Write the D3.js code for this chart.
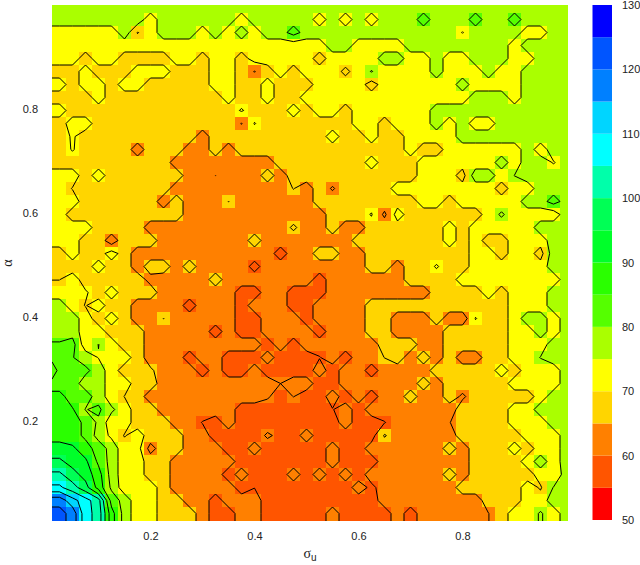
<!DOCTYPE html>
<html>
<head>
<meta charset="utf-8">
<script src="https://cdn.jsdelivr.net/npm/d3@7"></script>
<style>
  html, body { margin: 0; padding: 0; background: #fff; }
  svg { display: block; }
  text { font-family: "Liberation Sans", Arial, sans-serif; fill: #222; }
</style>
</head>
<body>
<svg id="chart" width="640" height="565"></svg>
<script>
// grid centres of the level plot
const sigmaU = [0.025,0.05,0.075,0.1,0.125,0.15,0.175,0.2,0.225,0.25,0.275,0.3,0.325,0.35,0.375,0.4,0.425,0.45,0.475,0.5,
  0.525,0.55,0.575,0.6,0.625,0.65,0.675,0.7,0.725,0.75,0.775,0.8,0.825,0.85,0.875,0.9,0.925,0.95,0.975,1.0];
const alpha = [1.0,0.975,0.95,0.925,0.9,0.875,0.85,0.825,0.8,0.775,0.75,0.725,0.7,0.675,0.65,0.625,0.6,0.575,0.55,0.525,
  0.5,0.475,0.45,0.425,0.4,0.375,0.35,0.325,0.3,0.275,0.25,0.225,0.2,0.175,0.15,0.125,0.1,0.075,0.05,0.025];

const levels = [55,60,65,70,75,80,85,90,95,100,105,110,115,120,125];
const bandColors = ['#ff0000','#ff5500','#ff8000','#ffd500','#ffff00','#aaff00','#55ff00','#2aff00',
  '#00ff2a','#00ff55','#00ffaa','#00ffff','#00d5ff','#0080ff','#0055ff','#0000ff'];
const legendBands = [50,55,60,65,70,75,80,85,90,95,100,105,110,115,120,125];
const legendTicks = [50,60,70,80,90,100,110,120,130];
const axisTicks = [0.2,0.4,0.6,0.8];

// values, one row per alpha (top row first)
const zRows = [
  [78,78,78,78,78,78,78,78,78,78,78,78,78,78,78,78,78,78,78,78, 78,78,78,78,78,78,78,78,78,78,78,78,78,78,78,78,78,78,78,78],
  [78,78,78,78,78,78,78,72,78,78,78,78,78,78,72,78,78,78,78,78, 72,78,72,78,72,78,78,78,82,78,78,78,82,78,78,82,78,78,78,78],
  [72,72,72,72,72,78,69.8,72,78,78,78,72,78,72,78,72,78,78,82,78, 78,78,78,78,78,78,78,78,78,78,78,74.8,78,78,78,78,72,72,78,78],
  [72,72,72,72,72,72,72,72,72,72,72,72,72,72,72,72,72,72,72,72, 72,78,78,72,72,72,72,78,78,78,78,78,78,78,78,72,78,78,78,78],
  [72,72,68,72,72,68,68,68,68,72,72,68,72,72,68,72,72,72,72,72, 68,72,72,72,72,78,78,72,72,78,72,72,78,78,78,72,72,78,78,78],
  [68,68,72,68,68,68,72,72,72,68,68,68,72,72,68,64.8,68,72,68,72, 72,72,69,72,75.3,72,72,72,72,78,72,72,72,78,72,72,78,78,78,78],
  [72,68,72,72,68,72,72,68,68,68,68,68,72,72,68,68,72,68,68,68, 72,72,72,72,68,72,72,72,72,72,72,78,72,72,72,72,78,78,78,78],
  [68,68,68,72,68,68,68,68,68,68,68,68,68,72,68,68,72,68,68,72, 72,72,72,72,72,72,72,72,72,72,72,72,78,78,78,72,78,78,78,78],
  [72,68,68,68,68,68,68,68,68,68,68,68,68,68,70.4,68,68,68,72,68, 72,72,68,72,72,72,72,72,72,78,78,78,78,78,78,78,78,78,78,78],
  [68,72,72,68,68,68,68,68,68,68,68,68,68,68,64.8,70.2,68,68,68,68, 68,68,68,72,72,68,72,72,72,78,72,78,72,72,78,78,78,78,78,78],
  [68,70.5,68,68,68,68,68,68,68,68,68,62,68,68,68,68,68,68,68,68, 68,72,68,68,72,68,68,72,72,72,72,78,78,78,78,78,78,78,78,78],
  [68,70.3,68,68,68,68,62,68,68,68,62,62,68,62,68,68,68,68,68,68, 68,68,68,68,68,68,68,72,68,68,72,72,72,72,72,72,78,72,78,78],
  [68,68,68,68,68,68,68,68,68,62,62,62,62,62,62,62,62,68,68,68, 68,68,68,68,72,68,68,68,72,72,72,72,72,72,78,72,78,78,74.6,78],
  [72,72,68,72,68,68,68,68,68,68,62,62,59.96,62,62,62,68,62,68,68, 68,68,68,68,68,68,68,68,72,72,72,68,78,78,72,75.1,78,78,78,78],
  [72,69.8,68,68,68,68,68,68,68,62,62,62,62,62,62,62,62,62,65.2,62, 68,64.4,68,68,68,68,72,72,72,72,72,72,72,72,68,72,72,78,78,78],
  [72,72,68,68,68,68,68,68,62,68,62,62,62,65.1,62,62,62,62,62,62, 68,68,68,68,68,68,68,68,72,72,68,72,72,72,72,72,78,78,82,78],
  [72,68,68,68,68,68,68,68,68,68,62,62,62,62,62,62,62,62,62,62, 62,68,68,68,70.3,64,72,68,68,68,68,68,68,72,75.8,72,72,72,72,78],
  [72,72,72,68,68,68,68,62,62,62,62,62,62,62,62,62,62,62,66,62, 62,68,62,62,68,68,68,68,68,68,72,68,72,72,72,72,72,78,78,78],
  [72,72,68,68,62,68,68,68,62,62,62,62,62,62,62,68,62,62,62,62, 62,62,62,68,68,68,68,68,68,68,72,68,72,68,68,72,72,72,78,78],
  [68,72,68,68,72,68,62,62,62,62,62,62,62,62,62,62,62,58,62,62, 68,68,62,62,68,68,68,68,68,68,68,68,72,72,68,72,72,68,78,78],
  [68,68,68,72,68,68,62,68,68,62,68,62,62,62,62,58.6,62,62,62,62, 62,62,62,62,68,68,62,68,68,70.4,68,68,72,72,72,72,72,72,78,78],
  [69.9,72,68,68,68,68,68,63,62,62,62,62,68,62,62,62,62,62,62,62, 58,62,62,62,62,62,62,68,68,68,68,72,72,72,72,72,72,72,72,78],
  [72,70.2,70.5,68,72,68,68,68,62,62,62,62,62,62,58,58,62,62,58,58, 58,62,62,62,62,62,62,62,62,68,68,68,68,72,68,72,72,72,78,78],
  [78,72,69.8,72,68,68,62,62,62,62,58,62,62,62,58,62,62,62,58,58, 62,62,62,62,68,68,68,68,68,68,68,68,68,68,68,72,72,72,78,78],
  [78,78,72,68,72,68,62,62,65.1,62,62,62,62,62,58,58,62,62,62,58, 62,62,62,62,68,68,62,62,62,68,62,62,70.2,68,68,72,78,78,72,78],
  [78,78,72,72,68,68,68,62,62,62,62,62,58,62,58,58,62,62,62,62, 58,62,62,62,68,68,62,62,62,62,68,68,68,68,68,72,72,78,72,78],
  [80.5,82,72,75.1,72,68,68,62,62,62,62,62,62,62,62,62,58,62,58,62, 62,62,62,62,62,68,68,68,62,62,68,68,68,68,68,72,72,72,78,78],
  [82,80.2,78,74.8,72,72,68,62,62,62,58,62,62,58,58,58,62,58,58,58, 59.8,62,58,62,62,65.1,68,62,68,62,68,62,62,68,68,72,72,75.2,78,78],
  [82,82,81,78,72,68,68,66,62,62,62,58,62,58,58,62,58,58,58,58, 62,58,62,62,58,62,62,62,62,68,68,68,68,68,72,68,72,72,72,78],
  [82,82,78,78,72,72,68,68,62,62,62,62,62,62,62,62,62,60,62,62, 58,58,62,62,62,62,62,62,68,62,68,68,68,68,68,72,72,72,72,78],
  [87,82,82,78,72,69.9,68,62,62,62,62,62,62,62,62,62,60.5,58,60.1,58, 58,62,58,62,58,62,62,68,62,62,68,64,68,68,68,68,68,72,78,78],
  [87,85.5,79.8,81,76,72,68,68,62,62,62,62,62,62,58,58,58,58,58,58, 58,59.8,62,58,62,62,62,62,62,62,62,68,68,68,68,72,72,78,78,78],
  [87,87,84,79,72,72,68,68,68,62,62,59.8,58,62,58,58,58,58,58,58, 58,58,62,58,58,59.8,62,62,62,62,64.8,68,68,68,68,72,72,72,78,78],
  [88,87,84,78,74,69.7,72,68,68,68,62,62,58,58,58,58,60.6,59,58,62, 58,58,58,59.9,58,65.5,62,62,62,62,62,68,68,68,68,68,72,72,72,78],
  [92,91,87,83,78,72,72,63,68,68,62,62,62,58,58,62,58,58,58,58, 58,62,58,58,62,62,62,62,62,62,68,62,68,68,68,72,68,72,72,78],
  [96,93,91,84,78,72,72,68,68,62,62,62,62,62,58,58,58,58,58,58, 58,62,58,58,58,62,62,62,62,62,62,62,68,68,68,68,72,78,72,78],
  [101,97,93,87,78,72,72,68,68,62,62,62,62,58,62,58,58,58,62,58, 62,58,62,58,62,62,62,62,62,62,68,62,68,68,68,68,68,72,70.3,78],
  [106,102,97,88,79,72,72,72,68,62,62,62,62,62,58,59.9,58,58,58,58, 58,58,58,62,59,62,62,62,62,62,62,68,68,68,68,68,72,69.5,75.2,78],
  [118,112,107,102,83,78,72,72,68,68,62,62,58,62,62,62,58,58,58,58, 58,58,58,58,58,62,62,62,62,62,62,62,62,68,68,68,72,72,78,78],
  [122,118,107,103,87,78,72,72,68,68,68,62,58,58,62,62,58,58,58,58, 58,62,58,58,58,58,62,58,62,62,62,62,62,64.9,68,72,72,75.6,72,78]
];
// the first sampled sigma sits on the panel edge; its values match the next column apart from this one
const leftEdgeAlpha = 0.3, leftEdgeValue = 76;

const panel = { left: 52, right: 568, top: 5, bottom: 521 };
const halfCell = 0.0125;

const svg = d3.select('#chart');
const x = d3.scaleLinear().domain([0, 1]).range([46.5, 566.5]);
const y = d3.scaleLinear().domain([0, 1]).range([526.5, 6.5]);
const colour = d3.scaleThreshold().domain(levels).range(bandColors);

svg.append('defs').append('clipPath').attr('id', 'panel-clip').append('rect')
  .attr('x', panel.left).attr('y', panel.top)
  .attr('width', panel.right - panel.left).attr('height', panel.bottom - panel.top);

// ---- cells ----
const cells = zRows.flatMap((row, j) => row.map((v, i) => ({ i, j, v })));
svg.append('g').attr('clip-path', 'url(#panel-clip)')
  .selectAll('rect').data(cells).join('rect')
  .attr('x', (d) => (d.i === 0 ? panel.left : x(sigmaU[d.i] - halfCell)))
  .attr('y', (d) => y(alpha[d.j] + halfCell))
  .attr('width', (d) => x(sigmaU[d.i] + halfCell) - (d.i === 0 ? panel.left : x(sigmaU[d.i] - halfCell)))
  .attr('height', (d) => (d.j === zRows.length - 1 ? panel.bottom : y(alpha[d.j] - halfCell)) - y(alpha[d.j] + halfCell))
  .attr('fill', (d) => colour(d.v + 0.05)); // 59.96 style values only mark a contour dot

// ---- contour lines ----
// one extra row/col each side so the rings of d3.contours close outside the clip
const padded = [zRows[0], ...zRows, zRows[zRows.length - 1]].map((row) => [row[0], ...row, row[row.length - 1]]);
padded[alpha.indexOf(leftEdgeAlpha) + 1][0] = leftEdgeValue;
const gridW = padded[0].length, gridH = padded.length;
const contours = d3.contours().size([gridW, gridH]).thresholds(levels)(padded.flat());

const gridX = [panel.left, ...sigmaU.map(x), x(1.03)];
const gridY = [y(1.03), ...alpha.map(y), panel.bottom];
function gridPos(g, positions) {
  const f = g - 0.5;
  const dir = positions[1] > positions[0] ? 30 : -30;
  if (f < 0) return positions[0] - dir;
  if (f > positions.length - 1) return positions[positions.length - 1] + dir;
  const k = Math.min(Math.floor(f), positions.length - 2);
  return positions[k] + (positions[k + 1] - positions[k]) * (f - k);
}
const toPlot = d3.geoTransform({
  point(gx, gy) { this.stream.point(gridPos(gx, gridX), gridPos(gy, gridY)); },
});
svg.append('g').attr('clip-path', 'url(#panel-clip)')
  .selectAll('path').data(contours).join('path')
  .attr('d', d3.geoPath(toPlot))
  .attr('fill', 'none').attr('stroke', '#000').attr('stroke-width', 1).attr('stroke-linejoin', 'round');

// ---- axes ----
const xAxis = svg.append('g').attr('transform', `translate(0,${panel.bottom + 6.5})`)
  .call(d3.axisBottom(x).tickValues(axisTicks).tickSize(0).tickPadding(5).tickFormat(d3.format('.1f')));
const yAxis = svg.append('g').attr('transform', 'translate(38,0)')
  .call(d3.axisLeft(y).tickValues(axisTicks).tickSize(0).tickPadding(0).tickFormat(d3.format('.1f')));
[xAxis, yAxis].forEach((g) => {
  g.select('.domain').remove();
  g.selectAll('text').attr('font-size', 11).style('font-family', '"Liberation Sans", Arial, sans-serif').attr('fill', '#222');
});
yAxis.selectAll('text').attr('dy', '0.2em');

const xTitle = svg.append('text').attr('x', 310).attr('y', 558).attr('text-anchor', 'middle');
xTitle.append('tspan').text('σ').style('font-family', '"Liberation Serif", serif').attr('font-size', 14);
xTitle.append('tspan').text('u').attr('font-size', 10).attr('dy', 3);
svg.append('text').attr('transform', 'translate(12,263) rotate(-90)').attr('text-anchor', 'middle')
  .style('font-family', '"Liberation Serif", serif').attr('font-size', 14).text('α');

// ---- colour key ----
const keyY = d3.scaleLinear().domain([50, 130]).range([520, 5]);
const key = svg.append('g');
key.selectAll('rect').data(legendBands).join('rect')
  .attr('x', 592.5).attr('width', 19.5)
  .attr('y', (d) => keyY(d + 5)).attr('height', (d) => keyY(d) - keyY(d + 5))
  .attr('fill', (d) => colour(d));
const keyAxis = svg.append('g').attr('transform', 'translate(612,0)')
  .call(d3.axisRight(keyY).tickValues(legendTicks).tickSize(0).tickPadding(10));
keyAxis.select('.domain').remove();
keyAxis.selectAll('text').attr('font-size', 11).style('font-family', '"Liberation Sans", Arial, sans-serif').attr('fill', '#222');
</script>
</body>
</html>
